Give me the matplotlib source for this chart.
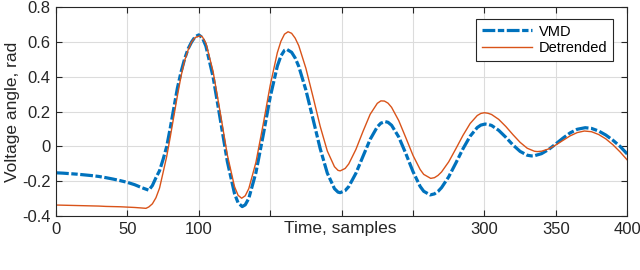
import matplotlib.pyplot as plt
from matplotlib import transforms

# VMD component (sample index, rad)
vmd_x = [0, 5, 10, 15, 20, 25, 30, 35, 40, 45,
         50, 55, 60, 65, 67.5, 70, 72.5, 75, 77.5, 80,
         85, 87.5, 90, 92.5, 95, 97.5, 100, 102.5, 105, 110,
         115, 120, 125, 127.5, 130.4, 132.5, 135, 140, 145, 150,
         155, 157.5, 160, 161.6, 165, 167.5, 170, 175, 180, 185,
         190, 195, 197.5, 199, 202.5, 205, 210, 215, 220, 225,
         227.5, 230.5, 232.5, 235, 240, 245, 250, 255, 257.5, 262,
         265, 267.5, 270, 275, 280, 285, 290, 295, 297.5, 300.5,
         302.5, 305, 310, 315, 320, 325, 330, 333, 335, 340,
         345, 350, 355, 360, 365, 370.6, 375, 380, 385, 390,
         395, 400]
vmd_y = [-0.152, -0.154, -0.157, -0.160, -0.164, -0.168, -0.173, -0.180, -0.188, -0.197,
         -0.207, -0.220, -0.237, -0.252, -0.225, -0.180, -0.140, -0.075, -0.002, 0.105,
         0.334, 0.425, 0.500, 0.560, 0.600, 0.630, 0.640, 0.624, 0.575, 0.399,
         0.157, -0.088, -0.271, -0.324, -0.346, -0.336, -0.299, -0.151, 0.060, 0.283,
         0.461, 0.519, 0.551, 0.557, 0.540, 0.507, 0.459, 0.323, 0.156, -0.013,
         -0.154, -0.243, -0.263, -0.266, -0.254, -0.231, -0.155, -0.057, 0.040, 0.112,
         0.133, 0.142, 0.138, 0.121, 0.054, -0.042, -0.145, -0.230, -0.258, -0.279,
         -0.273, -0.259, -0.237, -0.175, -0.096, -0.014, 0.058, 0.108, 0.122, 0.128,
         0.126, 0.120, 0.092, 0.052, 0.008, -0.029, -0.051, -0.055, -0.054, -0.042,
         -0.018, 0.014, 0.047, 0.077, 0.098, 0.107, 0.103, 0.088, 0.065, 0.035,
         0.000, -0.044]

# detrended signal
det_x = [0, 5, 10, 15, 20, 25, 30, 35, 40, 45,
         50, 55, 60, 63, 65, 67.5, 70, 72.5, 75, 77.5,
         80, 85, 87.5, 90, 92.5, 95, 97.5, 101, 102.5, 105,
         110, 115, 120, 125, 127.5, 130, 132.5, 135, 140, 145,
         150, 155, 157.5, 160, 162.5, 165, 167.5, 170, 175, 180,
         185, 190, 195, 197.5, 199, 202.5, 205, 210, 215, 220,
         225, 227.5, 230, 232.5, 235, 240, 245, 250, 255, 257.5,
         262.4, 265, 267.5, 270, 275, 280, 285, 290, 295, 297.5,
         300, 302.5, 305, 310, 315, 320, 325, 330, 335, 337,
         340, 345, 350, 355, 360, 365, 370, 375, 380, 385,
         390, 395, 400]
det_y = [-0.337, -0.338, -0.339, -0.340, -0.341, -0.342, -0.343, -0.345, -0.346, -0.347,
         -0.349, -0.351, -0.354, -0.356, -0.348, -0.330, -0.295, -0.240, -0.150, -0.059,
         0.053, 0.290, 0.400, 0.490, 0.553, 0.600, 0.625, 0.635, 0.629, 0.592,
         0.430, 0.194, -0.050, -0.231, -0.281, -0.298, -0.284, -0.243, -0.092, 0.123,
         0.350, 0.538, 0.603, 0.644, 0.658, 0.649, 0.621, 0.578, 0.448, 0.284,
         0.115, -0.027, -0.117, -0.138, -0.141, -0.127, -0.101, -0.018, 0.086, 0.184,
         0.247, 0.261, 0.260, 0.248, 0.224, 0.148, 0.049, -0.052, -0.133, -0.161,
         -0.184, -0.180, -0.167, -0.147, -0.089, -0.014, 0.063, 0.131, 0.177, 0.189,
         0.193, 0.190, 0.183, 0.155, 0.114, 0.067, 0.023, -0.011, -0.028, -0.030,
         -0.028, -0.015, 0.008, 0.034, 0.060, 0.079, 0.088, 0.084, 0.068, 0.043,
         0.009, -0.032, -0.078]

x_ticks = [0, 50, 100, 150, 200, 250, 300, 350, 400]
x_labels = ['0', '50', '100', '', '', '', '300', '350', '400']
y_ticks = [-0.4, -0.2, 0, 0.2, 0.4, 0.6, 0.8]
y_labels = ['-0.4', '-0.2', '0', '0.2', '0.4', '0.6', '0.8']

plt.rcParams['font.family'] = ['Liberation Sans', 'DejaVu Sans']

fig = plt.figure(figsize=(6.4, 2.7), dpi=100)
ax = fig.add_axes([0.0875, 0.2, 0.8925, 0.774])

ax.plot(vmd_x, vmd_y, color='#0072BD', lw=2.3, dashes=(4, 0.8, 2, 0.8), label='VMD')
ax.plot(det_x, det_y, color='#D95319', lw=1.0, label='Detrended')

ax.set_xlim(0, 400)
ax.set_ylim(-0.4, 0.8)
ax.set_xticks(x_ticks)
ax.set_xticklabels(x_labels)
ax.set_yticks(y_ticks)
ax.set_yticklabels(y_labels)
ax.tick_params(direction='in', top=True, right=True, labelsize=12,
               colors='#262626', length=4, width=0.8, pad=4)
ax.grid(True, color='#dcdcdc', lw=0.8)
ax.set_axisbelow(True)
for sp in ax.spines.values():
    sp.set_color('#262626')
    sp.set_linewidth(0.8)

ax.set_ylabel('Voltage angle, rad', fontsize=12.5, color='#262626', labelpad=1)
# x label sits on the tick label row, over the empty ticks
trans = transforms.blended_transform_factory(ax.transData, ax.transAxes)
ax.text(199, -0.025, 'Time, samples', transform=trans, ha='center', va='top',
        fontsize=12.5, color='#262626')

leg = ax.legend(loc='upper right', bbox_to_anchor=(0.976, 0.944), borderaxespad=0,
                fontsize=10.5, handlelength=3.4, fancybox=False, framealpha=1,
                edgecolor='#262626', borderpad=0.4, labelspacing=0.2, handletextpad=0.5)
leg.get_frame().set_linewidth(0.8)

fig.savefig('out.png', dpi=100)
